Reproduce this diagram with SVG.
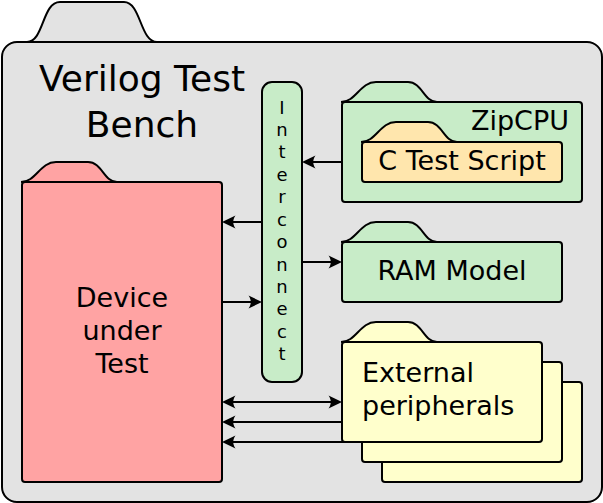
<svg xmlns="http://www.w3.org/2000/svg" xmlns:xlink="http://www.w3.org/1999/xlink" width="603" height="503" viewBox="0 0 603 503">
  <style>
    .box { stroke: #000; stroke-width: 2; }
    .tab { stroke: #000; stroke-width: 2; }
    .label { font-family: "DejaVu Sans", "Liberation Sans", sans-serif; fill: #000; }
    .wire { fill: none; stroke: #000; stroke-width: 2; }
    .bench { fill: #e3e3e3; }
    .dut { fill: #ffa3a3; }
    .green { fill: #c8ecc8; }
    .script { fill: #ffe6ad; }
    .periph { fill: #ffffcc; }
  </style>
  <defs>
    <!-- folder tab, 96 wide and 20 tall, base on y=20 -->
    <path id="tab" class="tab" d="M0,20 C15,20 19,0 35,0 L67,0 C81,0 83,20 96,20"/>
    <marker id="arrow" markerUnits="userSpaceOnUse" viewBox="-12 -8 16 16" markerWidth="16" markerHeight="16" refX="0" refY="0" orient="auto-start-reverse">
      <path d="M3,0 L-10.5,-6.5 C-7.5,-2.5 -7.5,2.5 -10.5,6.5 Z" fill="#000"/>
    </marker>
  </defs>

  <!-- outer test bench folder -->
  <g id="bench">
    <path class="tab bench" d="M27,42 C44,42 42,2 60,2 L124,2 C141,2 140,42 157,42"/>
    <rect class="box bench" x="2" y="42" width="600" height="460" rx="15" ry="15"/>
    <text class="label" font-size="36" text-anchor="middle" x="142" y="91">Verilog Test</text>
    <text class="label" font-size="36" text-anchor="middle" x="142" y="137">Bench</text>
  </g>

  <g id="dut">
    <use xlink:href="#tab" class="dut" transform="translate(21,162)"/>
    <rect class="box dut" x="22" y="182" width="200" height="300" rx="3" ry="3"/>
    <text class="label" font-size="27" text-anchor="middle" x="122" y="307">Device</text>
    <text class="label" font-size="27" text-anchor="middle" x="122" y="340">under</text>
    <text class="label" font-size="27" text-anchor="middle" x="122" y="373">Test</text>
  </g>

  <g id="interconnect">
    <rect class="box green" x="262" y="82" width="40" height="300" rx="10" ry="10"/>
    <g class="label" font-size="18" text-anchor="middle">
      <text x="282" y="114">I</text>
      <text x="282" y="136">n</text>
      <text x="282" y="158">t</text>
      <text x="282" y="181">e</text>
      <text x="282" y="203">r</text>
      <text x="282" y="226">c</text>
      <text x="282" y="248">o</text>
      <text x="282" y="271">n</text>
      <text x="282" y="293">n</text>
      <text x="282" y="315">e</text>
      <text x="282" y="338">c</text>
      <text x="282" y="360">t</text>
    </g>
  </g>

  <g id="zipcpu">
    <use xlink:href="#tab" class="green" transform="translate(341,82)"/>
    <rect class="box green" x="342" y="102" width="240" height="100" rx="3" ry="3"/>
    <text class="label" font-size="27" text-anchor="end" x="569" y="130">ZipCPU</text>
  </g>

  <g id="c-test-script">
    <use xlink:href="#tab" class="script" transform="translate(361,122)"/>
    <rect class="box script" x="362" y="142" width="200" height="40" rx="3" ry="3"/>
    <text class="label" font-size="27" text-anchor="middle" x="462" y="170">C Test Script</text>
  </g>

  <g id="ram-model">
    <use xlink:href="#tab" class="green" transform="translate(341,222)"/>
    <rect class="box green" x="342" y="242" width="220" height="60" rx="3" ry="3"/>
    <text class="label" font-size="27" text-anchor="middle" x="452" y="280">RAM Model</text>
  </g>

  <g id="peripherals">
    <rect class="box periph" x="382" y="382" width="200" height="100" rx="3" ry="3"/>
    <rect class="box periph" x="362" y="362" width="200" height="100" rx="3" ry="3"/>
    <use xlink:href="#tab" class="periph" transform="translate(341,322)"/>
    <rect class="box periph" x="342" y="342" width="200" height="100" rx="3" ry="3"/>
    <text class="label" font-size="27" x="362" y="382">External</text>
    <text class="label" font-size="27" x="362" y="415">peripherals</text>
  </g>

  <g id="connectors">
    <line class="wire" x1="342" y1="162" x2="305" y2="162" marker-end="url(#arrow)"/>
    <line class="wire" x1="302" y1="262" x2="339" y2="262" marker-end="url(#arrow)"/>
    <line class="wire" x1="262" y1="222" x2="225" y2="222" marker-end="url(#arrow)"/>
    <line class="wire" x1="222" y1="302" x2="259" y2="302" marker-end="url(#arrow)"/>
    <line class="wire" x1="225" y1="402" x2="339" y2="402" marker-start="url(#arrow)" marker-end="url(#arrow)"/>
    <line class="wire" x1="342" y1="422" x2="225" y2="422" marker-end="url(#arrow)"/>
    <line class="wire" x1="362" y1="442" x2="225" y2="442" marker-end="url(#arrow)"/>
  </g>
</svg>
